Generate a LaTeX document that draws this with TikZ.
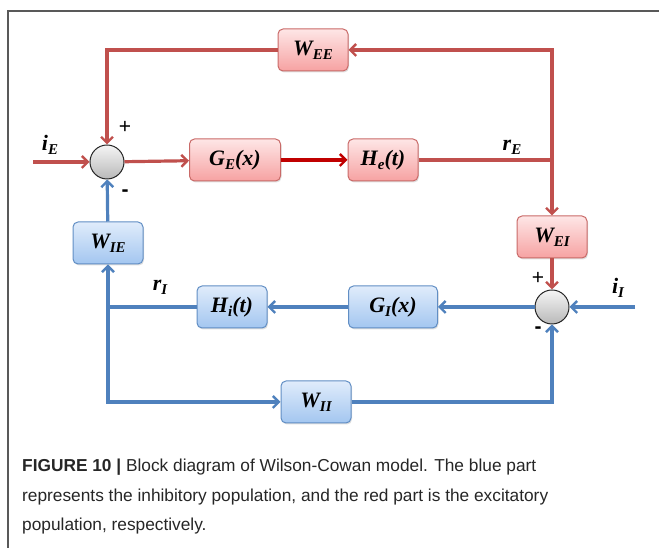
\documentclass[tikz,border=0pt]{standalone}
\usepackage{fontspec}
\setmainfont{Liberation Serif}
\setsansfont{Liberation Sans}
\usetikzlibrary{positioning, arrows.meta, shadows}

\definecolor{exred}{HTML}{C0504D}
\definecolor{exdark}{HTML}{C00000}
\definecolor{inblue}{HTML}{4F81BD}
\definecolor{redtop}{RGB}{254,230,230}
\definecolor{redbot}{RGB}{246,162,162}
\definecolor{bluetop}{RGB}{224,236,251}
\definecolor{bluebot}{RGB}{163,198,240}

% subscript of the block and signal names
\newcommand{\lowidx}[1]{\raisebox{-4pt}{\fontsize{15}{15}\selectfont #1}}

\begin{document}
\begin{tikzpicture}[
                    % work in pixels of the original figure
                    x=1pt, y=1pt,
                    >={Straight Barb[length=6pt, width=12pt, line width=2.4pt]},
                    every node/.style={color=black}
                  ]
  % --- Styles of the blocks ---
  \tikzstyle{block}=[rounded corners=5pt, minimum width=70pt, minimum height=42pt,
                     line width=1pt, font=\fontsize{22}{26}\selectfont\bfseries\itshape,
                     drop shadow={shadow xshift=1pt, shadow yshift=-1.5pt, opacity=0.25}]
  \tikzstyle{redbox}=[block, draw=exred!85, top color=redtop, bottom color=redbot]
  \tikzstyle{bluebox}=[block, draw=inblue!90, top color=bluetop, bottom color=bluebot]
  \tikzstyle{sumnode}=[circle, draw=black!85, line width=1pt, minimum size=34pt,
                       top color=gray!8, bottom color=gray!55]
  \tikzstyle{redline}=[color=exred, line width=3.2pt]
  \tikzstyle{blueline}=[color=inblue, line width=3.2pt]
  \tikzstyle{sig}=[font=\fontsize{22}{26}\selectfont\bfseries\itshape]
  \tikzstyle{sgn}=[font=\sffamily\fontsize{21}{23}\selectfont]

  \useasboundingbox (0,0) rectangle (659,548);

  % --- Frame (top and left edge) ---
  \draw[color=black!65, line width=1.2pt] (8,0) -- (8,537) -- (659,537);

  % --- Summing junctions ---
  \node[sumnode] (sumE) at (107,386) {};
  \node[sumnode] (sumI) at (552,241) {};

  % --- Excitatory blocks ---
  \node[redbox] (WEE) at (313,498) {W\lowidx{EE}};
  \node[redbox, minimum width=91pt] (GE) at (235,388) {G\lowidx{E}(x)};
  \node[redbox] (HE) at (383,388) {H\lowidx{e}(t)};
  \node[redbox] (WEI) at (552,311) {W\lowidx{EI}};

  % --- Inhibitory blocks ---
  \node[bluebox, minimum width=89pt] (GI) at (393,241) {G\lowidx{I}(x)};
  \node[bluebox] (HI) at (232,241) {H\lowidx{i}(t)};
  \node[bluebox] (WIE) at (108,305) {W\lowidx{IE}};
  \node[bluebox] (WII) at (316,146) {W\lowidx{II}};

  % --- Free ends and branch points ---
  \coordinate (iE) at (33,386);
  \coordinate (iI) at (635,241);
  \coordinate (jE) at (552,388);
  \coordinate (jI) at (108,241);

  % --- Excitatory path ---
  \draw[redline, ->] (iE) -- (sumE);
  \draw[redline, ->] (sumE) -- (GE);
  \draw[redline, color=exdark, ->] (GE) -- (HE);
  \draw[redline] (HE) -- (jE);
  \draw[redline, ->] (jE) |- (WEE);
  \draw[redline, ->] (WEE) -| (sumE);
  \draw[redline, ->] (jE) -- (WEI);
  \draw[redline, ->] (WEI) -- (sumI);

  % --- Inhibitory path ---
  \draw[blueline, ->] (iI) -- (sumI);
  \draw[blueline, ->] (sumI) -- (GI);
  \draw[blueline, ->] (GI) -- (HI);
  \draw[blueline] (HI) -- (jI);
  \draw[blueline, ->] (jI) -- (WIE);
  \draw[blueline, ->] (WIE) -- (sumE);
  \draw[blueline, ->] (jI) |- (WII);
  \draw[blueline, ->] (WII) -| (sumI);

  % --- Signal labels ---
  \node[sig] (liE) at (50,403) {i\lowidx{E}};
  \node[sig] (lrE) at (512,401) {r\lowidx{E}};
  \node[sig] (liI) at (618,260) {i\lowidx{I}};
  \node[sig] (lrI) at (160,261) {r\lowidx{I}};

  % --- Signs at the junctions ---
  \node[sgn] (pE) at (125,421) {+};
  \node[sgn] (mE) at (125,355) {\textbf{-}};
  \node[sgn] (pI) at (538,270) {+};
  \node[sgn] (mI) at (538,218) {\textbf{-}};

  % --- Caption ---
  \node[anchor=north west, inner sep=0pt, align=left, color=black!85,
        font=\sffamily\fontsize{17.3}{29.5}\selectfont] (caption) at (22,89)
    {\textbf{FIGURE 10 |} Block diagram of Wilson-Cowan model. The blue part\\
     represents the inhibitory population, and the red part is the excitatory\\
     population, respectively.};
\end{tikzpicture}
\end{document}
